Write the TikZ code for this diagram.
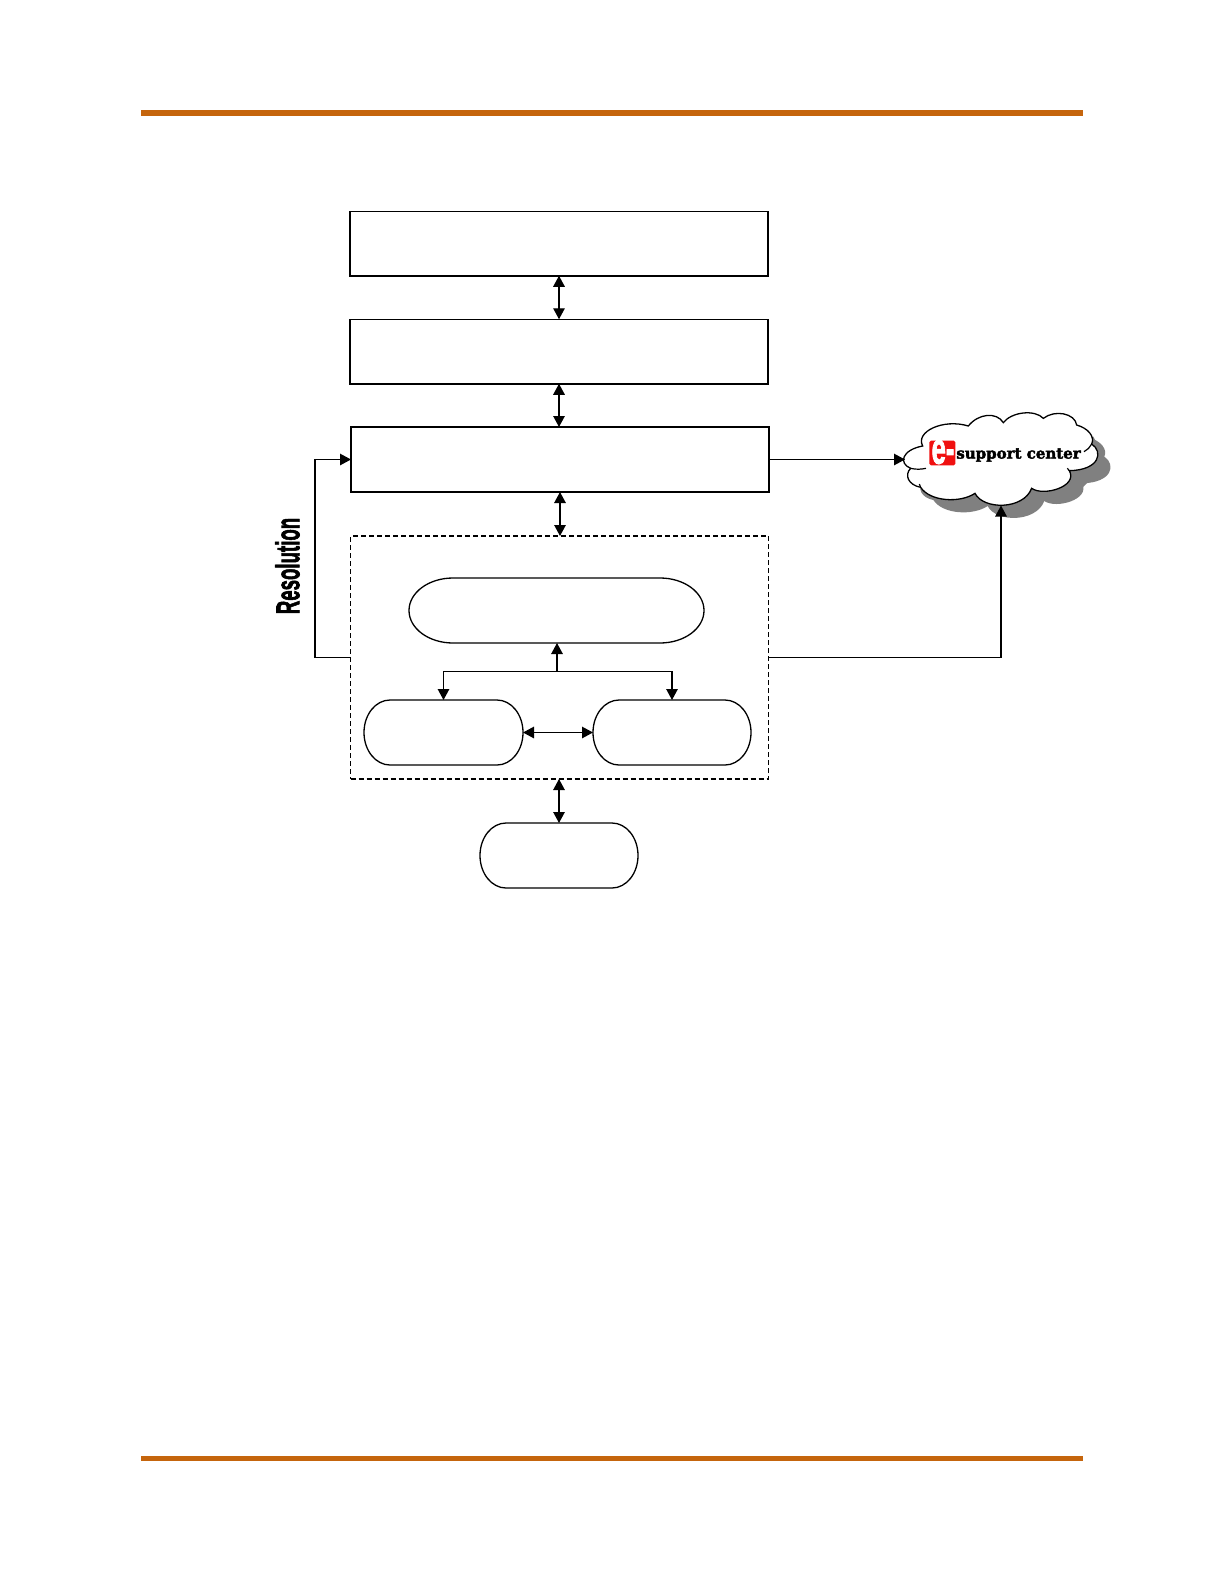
\documentclass[tikz,border=0pt]{standalone}
\usepackage{fontspec}
\setmainfont{Liberation Sans}
\newfontfamily\slabfont[BoldFeatures={FakeBold=2.6}]{DejaVu Serif}
\newfontfamily\heavyfont[BoldFeatures={FakeBold=2.4}]{Liberation Sans}
\usetikzlibrary{arrows.meta,calc}
\definecolor{rulecol}{HTML}{C5650D}
\definecolor{shadowcol}{HTML}{808080}
\definecolor{logored}{HTML}{F01010}
\tikzset{
  x=1pt,y=-1pt,
  anchorbox/.style={rectangle,inner sep=0pt,outer sep=0pt,minimum width=#1},
  boxnode/.style={rectangle,draw=black,line width=1.5pt,inner sep=0pt,outer sep=0pt},
  dashnode/.style={rectangle,draw=black,line width=1.2pt,dash pattern=on 5pt off 3pt,inner sep=0pt,outer sep=0pt},
  pillline/.style={draw=black,line width=1.3pt},
  conn/.style={line width=1.3pt,draw=black},
  tip/.style={-{Triangle[length=11pt,width=11.5pt]}},
  both/.style={{Triangle[length=11pt,width=11.5pt]}-{Triangle[length=11pt,width=11.5pt]}},
  orule/.style={line width=5.5pt,draw=rulecol},
}
% name, x1, y1, x2, y2, rx : stadium with elliptical ends, plus an invisible node for anchors
\newcommand{\pillshape}[6]{%
  \pgfmathsetmacro{\pry}{(#5-#3)/2}
  \pgfmathsetmacro{\pym}{(#5+#3)/2}
  \pgfmathsetmacro{\pkx}{0.5523*#6}
  \pgfmathsetmacro{\pky}{0.5523*\pry}
  \pgfmathsetmacro{\pxa}{#2+#6}
  \pgfmathsetmacro{\pxb}{#4-#6}
  \pgfmathsetmacro{\pxc}{(#2+#4)/2}
  \pgfmathsetmacro{\pwd}{#4-#2}
  \pgfmathsetmacro{\phg}{#5-#3}
  \draw[pillline] (#2,\pym) .. controls (#2,\pym-\pky) and (\pxa-\pkx,#3) .. (\pxa,#3)
    -- (\pxb,#3) .. controls (\pxb+\pkx,#3) and (#4,\pym-\pky) .. (#4,\pym)
    .. controls (#4,\pym+\pky) and (\pxb+\pkx,#5) .. (\pxb,#5)
    -- (\pxa,#5) .. controls (\pxa-\pkx,#5) and (#2,\pym+\pky) .. (#2,\pym) -- cycle;
  \node[rectangle,inner sep=0pt,outer sep=0pt,minimum width=\pwd pt,minimum height=\phg pt] (#1) at (\pxc,\pym) {};
}
\newcommand{\cloudpath}{%
  (92,205) .. controls (55,190) and (65,150) .. (128,138)
  .. controls (105,95) and (190,55) .. (265,78)
  .. controls (295,40) and (350,35) .. (370,68)
  .. controls (395,35) and (465,28) .. (490,55)
  .. controls (525,28) and (585,40) .. (590,75)
  .. controls (625,85) and (645,110) .. (635,132)
  .. controls (670,155) and (660,210) .. (568,212)
  .. controls (595,260) and (490,290) .. (455,265)
  .. controls (430,330) and (310,330) .. (285,280)
  .. controls (240,310) and (150,305) .. (122,262)
  .. controls (85,255) and (72,225) .. (92,205) -- cycle
}
\begin{document}
\begin{tikzpicture}[x=1pt,y=-1pt]
\useasboundingbox (0,0) rectangle (1224,1584);
\fill[white] (0,0) rectangle (1224,1584);
% page rules
\coordinate (r1a) at (141,113); \coordinate (r1b) at (1083,113);
\coordinate (r2a) at (141,1458.5); \coordinate (r2b) at (1083,1458.5);
\draw[orule] (r1a) -- (r1b);
\draw[orule] (r2a) -- (r2b);
% cloud
\begin{scope}[shift={(880,400)},x=0.33333pt,y=-0.33333pt]
  \fill[shadowcol,shift={(38,38)}] \cloudpath;
  \fill[shadowcol] (160,250) -- (640,110) -- (680,190) -- (590,280) -- (300,320) -- cycle;
  \filldraw[fill=white,draw=black,line width=1.3pt] \cloudpath;
  \draw[black,line width=1.2pt] (92,205) .. controls (108,209) and (124,208) .. (138,205);
  \draw[black,line width=1.2pt] (612,155) .. controls (622,150) and (630,142) .. (635,132);
  \draw[black,line width=1.2pt] (568,212) .. controls (566,209) and (565,207) .. (562,205);
  \draw[black,line width=1.2pt] (122,262) .. controls (121,258) and (120,255) .. (118,252);
  \fill[logored,rounded corners=1.5pt] (148,122) rectangle (226,196);
\end{scope}
\node[inner sep=0pt,text=white,xscale=0.58,font=\heavyfont\bfseries\fontsize{44}{44}\selectfont] at (943,452) {e-};
\node[inner sep=0pt,font=\slabfont\bfseries\fontsize{15}{16}\selectfont] (sc) at (1018.5,455) {support center};
\node[anchorbox=192pt,minimum height=92pt] (cloud) at (1001,459.5) {};
% boxes
\node[boxnode,minimum width=418pt,minimum height=64.5pt] (b1) at (559,243.5) {};
\node[boxnode,minimum width=418pt,minimum height=64.5pt] (b2) at (559,351.5) {};
\node[boxnode,minimum width=418pt,minimum height=65pt] (b3) at (560,459.5) {};
\node[dashnode,minimum width=418pt,minimum height=243pt] (grp) at (559.5,657.5) {};
\pillshape{top}{409}{578}{704}{643}{44}
\pillshape{lp}{364}{700}{523}{765}{26}
\pillshape{rp}{593}{700}{751}{765}{26}
\pillshape{bp}{480}{823}{638}{888}{26}
% connectors
\draw[conn,both] (b1.south) -- (b2.north);
\draw[conn,both] (b2.south) -- (b3.north -| b2.south);
\draw[conn,both] (b3.south) -- (grp.north -| b3.south);
\draw[conn,both] (grp.south -| bp.north) -- (bp.north);
\draw[conn,both] (lp.east) -- (rp.west);
\coordinate (junc) at (557,671.5);
\draw[conn,tip] (junc) -- (top.south -| junc);
\draw[conn,both] (lp.north) |- (junc) -| (rp.north);
\coordinate (leftbend) at (315,657.5);
\draw[conn,tip] (grp.west) -- (leftbend) |- (b3.west);
\draw[conn,tip] (b3.east) -- (cloud.west);
\draw[conn,tip] (grp.east) -| (cloud.south);
% label
\node[inner sep=0pt,rotate=90,xscale=0.565,font=\heavyfont\bfseries\fontsize{33}{33}\selectfont] (res) at (287.5,566) {Resolution};
\end{tikzpicture}
\end{document}
